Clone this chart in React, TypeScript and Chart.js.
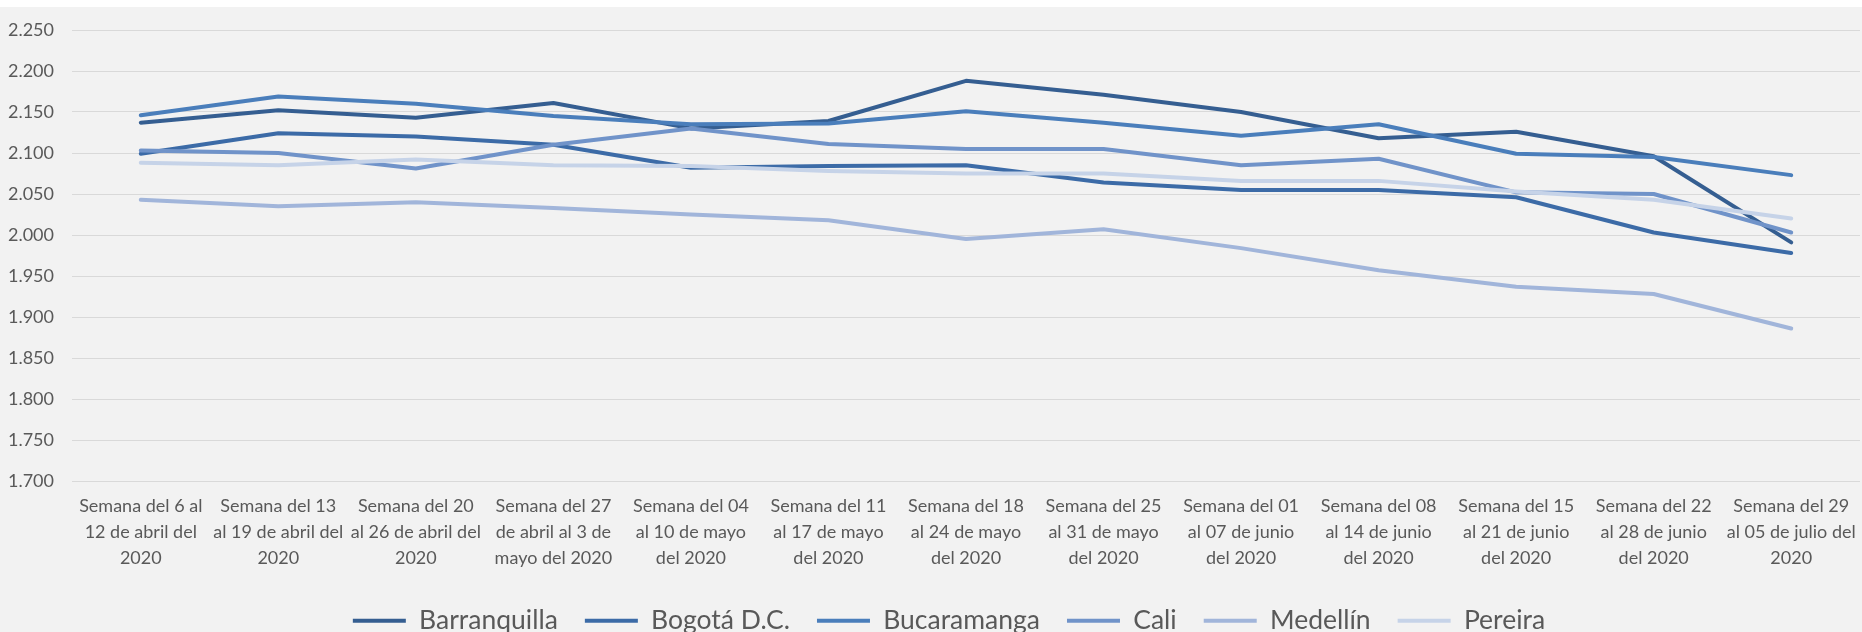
import React, { useEffect, useRef } from "react";
import { Chart, registerables } from "chart.js";

Chart.register(...registerables);

const categories: string[][] = [
  ["Semana del 6 al", "12 de abril del", "2020"],
  ["Semana del 13", "al 19 de abril del", "2020"],
  ["Semana del 20", "al 26 de abril del", "2020"],
  ["Semana del 27", "de abril al 3 de", "mayo del 2020"],
  ["Semana del 04", "al 10 de mayo", "del 2020"],
  ["Semana del 11", "al 17 de mayo", "del 2020"],
  ["Semana del 18", "al 24 de mayo", "del 2020"],
  ["Semana del 25", "al 31 de mayo", "del 2020"],
  ["Semana del 01", "al 07 de junio", "del 2020"],
  ["Semana del 08", "al 14 de junio", "del 2020"],
  ["Semana del 15", "al 21 de junio", "del 2020"],
  ["Semana del 22", "al 28 de junio", "del 2020"],
  ["Semana del 29", "al 05 de julio del", "2020"],
];

const cities = ["Barranquilla", "Bogotá D.C.", "Bucaramanga", "Cali", "Medellín", "Pereira"];

const barranquilla = [2137, 2152, 2143, 2161, 2130, 2139, 2188, 2171, 2150, 2118, 2126, 2096, 1991];
const bogota = [2099, 2124, 2120, 2110, 2082, 2084, 2085, 2064, 2055, 2055, 2046, 2003, 1978];
const bucaramanga = [2146, 2169, 2160, 2145, 2135, 2136, 2151, 2137, 2121, 2135, 2099, 2095, 2073];
const cali = [2103, 2100, 2081, 2110, 2130, 2111, 2105, 2105, 2085, 2093, 2052, 2050, 2003];
const medellin = [2043, 2035, 2040, 2033, 2025, 2018, 1995, 2007, 1984, 1957, 1937, 1928, 1886];
const pereira = [2088, 2085, 2092, 2085, 2084, 2078, 2075, 2075, 2066, 2066, 2053, 2043, 2020];

const colors = ["#355E91", "#3C6BA7", "#4A7EBB", "#7093C9", "#A1B5DA", "#C6D3E8"];

const yMin = 1700;
const yMax = 2250;
const yStep = 50;

const FONT = "Lato, 'Open Sans', 'Liberation Sans', sans-serif";

function fmt(v: number | string): string {
  const n = Math.round(Number(v));
  const th = Math.floor(n / 1000);
  const rest = String(n % 1000).padStart(3, "0");
  return th > 0 ? `${th}.${rest}` : String(n);
}

export default function App() {
  const ref = useRef<HTMLCanvasElement>(null);

  useEffect(() => {
    const series = [barranquilla, bogota, bucaramanga, cali, medellin, pereira];
    const chart: any = new Chart(ref.current as HTMLCanvasElement, {
      type: "line",
      data: {
        labels: categories,
        datasets: series.map((d, i) => ({
          label: cities[i],
          data: d,
          borderColor: colors[i],
          backgroundColor: colors[i],
          borderWidth: 4,
          pointRadius: 0,
          pointHoverRadius: 0,
          tension: 0,
          fill: false,
          order: series.length - i,
          borderJoinStyle: "round" as const,
          borderCapStyle: "round" as const,
        })),
      },
      options: {
        responsive: false,
        animation: false,
        events: [],
        layout: { padding: { top: 23, right: 2, left: 0, bottom: 0 } },
        plugins: {
          legend: {
            position: "bottom",
            labels: {
              boxWidth: 53,
              boxHeight: 4,
              padding: 27,
              color: "#595959",
              font: { family: FONT, size: 26.5 },
              sort: (a: any, b: any) => a.datasetIndex - b.datasetIndex,
              generateLabels: (c: any) =>
                Chart.defaults.plugins.legend.labels
                  .generateLabels(c)
                  .map((it: any) => ({ ...it, lineWidth: 0 })),
            },
          },
          tooltip: { enabled: false },
        },
        scales: {
          x: {
            offset: true,
            grid: { display: false },
            border: { display: false },
            ticks: {
              autoSkip: false,
              maxRotation: 0,
              minRotation: 0,
              padding: 4,
              color: "#595959",
              font: { family: FONT, size: 18, lineHeight: 1.44 },
            },
            afterFit: (s: any) => {
              s.height = 99.5;
              s.paddingLeft = 0;
              s.paddingRight = 0;
            },
          },
          y: {
            min: yMin,
            max: yMax,
            grid: { color: "#d9d9d9", lineWidth: 1, drawTicks: false },
            border: { display: false },
            ticks: {
              stepSize: yStep,
              padding: 18,
              color: "#595959",
              font: { family: FONT, size: 18 },
              callback: (v: any) => fmt(v),
            },
            afterFit: (s: any) => {
              s.width = 72;
              s.paddingTop = 0;
              s.paddingBottom = 0;
            },
          },
          yRight: {
            type: "linear",
            position: "right",
            min: yMin,
            max: yMax,
            grid: { display: false, drawTicks: false },
            border: { display: false },
            ticks: { display: false },
            afterFit: (s: any) => {
              s.width = 38;
              s.paddingTop = 0;
              s.paddingBottom = 0;
            },
          },
        },
      },
    } as any);
    return () => chart.destroy();
  }, []);

  return (
    <div
      style={{
        position: "absolute",
        left: 0,
        top: 0,
        width: 1862,
        height: 632,
        background: "#ffffff",
        overflow: "hidden",
      }}
    >
      <div
        style={{
          position: "absolute",
          left: 0,
          top: 7,
          width: 1862,
          height: 625,
          background: "#f2f2f2",
          overflow: "hidden",
        }}
      >
        <canvas ref={ref} width={1900} height={637} style={{ display: "block" }} />
      </div>
    </div>
  );
}
